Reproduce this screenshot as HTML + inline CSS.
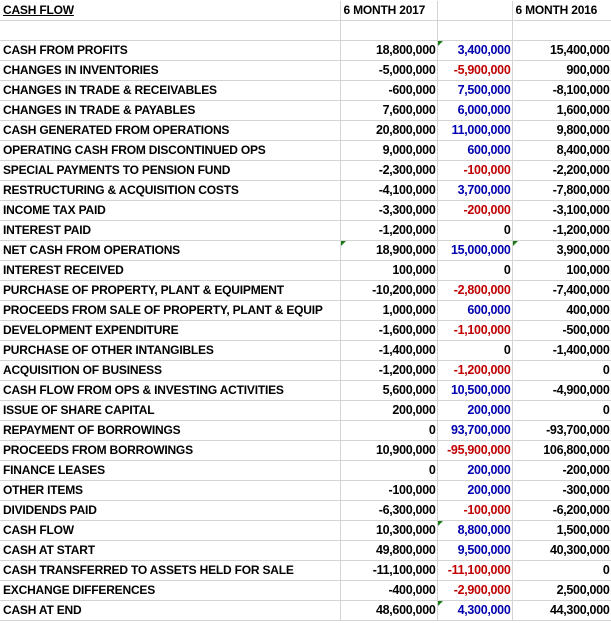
<!DOCTYPE html>
<html><head><style>
body{margin:0;background:#fff;width:611px;height:622px;overflow:hidden}
table{width:611px;margin-top:1px;border-collapse:collapse;table-layout:fixed;font-family:"Liberation Sans",sans-serif;font-size:12px;font-weight:bold;color:#000;letter-spacing:-0.2px}
td{height:19px;line-height:19px;padding:0 2px 0 3px;border:1px solid #d4d4d4;white-space:nowrap;overflow:hidden;position:relative;border-top:none}
td.n{text-align:right;font-size:12.5px;letter-spacing:-0.3px;padding-right:1px}
.b{color:#0000b0}.r{color:#c00000}
.t::before{content:"";position:absolute;left:0;top:0;border-top:5px solid #1a7a1a;border-right:5px solid transparent}
td:first-child{border-left:none}
</style></head><body>
<table>
<col style="width:340px"><col style="width:97px"><col style="width:75px"><col style="width:99px">
<tr><td style="text-decoration:underline">CASH FLOW</td><td>6 MONTH 2017</td><td></td><td>6 MONTH 2016</td></tr>
<tr><td></td><td></td><td></td><td></td></tr>
<tr><td>CASH FROM PROFITS</td><td class="n">18,800,000</td><td class="n b t">3,400,000</td><td class="n">15,400,000</td></tr>
<tr><td>CHANGES IN INVENTORIES</td><td class="n">-5,000,000</td><td class="n r">-5,900,000</td><td class="n">900,000</td></tr>
<tr><td>CHANGES IN TRADE &amp; RECEIVABLES</td><td class="n">-600,000</td><td class="n b">7,500,000</td><td class="n">-8,100,000</td></tr>
<tr><td>CHANGES IN TRADE &amp; PAYABLES</td><td class="n">7,600,000</td><td class="n b">6,000,000</td><td class="n">1,600,000</td></tr>
<tr><td>CASH GENERATED FROM OPERATIONS</td><td class="n">20,800,000</td><td class="n b">11,000,000</td><td class="n">9,800,000</td></tr>
<tr><td>OPERATING CASH FROM DISCONTINUED OPS</td><td class="n">9,000,000</td><td class="n b">600,000</td><td class="n">8,400,000</td></tr>
<tr><td>SPECIAL PAYMENTS TO PENSION FUND</td><td class="n">-2,300,000</td><td class="n r">-100,000</td><td class="n">-2,200,000</td></tr>
<tr><td>RESTRUCTURING &amp; ACQUISITION COSTS</td><td class="n">-4,100,000</td><td class="n b">3,700,000</td><td class="n">-7,800,000</td></tr>
<tr><td>INCOME TAX PAID</td><td class="n">-3,300,000</td><td class="n r">-200,000</td><td class="n">-3,100,000</td></tr>
<tr><td>INTEREST PAID</td><td class="n">-1,200,000</td><td class="n">0</td><td class="n">-1,200,000</td></tr>
<tr><td>NET CASH FROM OPERATIONS</td><td class="n t">18,900,000</td><td class="n b">15,000,000</td><td class="n t">3,900,000</td></tr>
<tr><td>INTEREST RECEIVED</td><td class="n">100,000</td><td class="n">0</td><td class="n">100,000</td></tr>
<tr><td>PURCHASE OF PROPERTY, PLANT &amp; EQUIPMENT</td><td class="n">-10,200,000</td><td class="n r">-2,800,000</td><td class="n">-7,400,000</td></tr>
<tr><td>PROCEEDS FROM SALE OF PROPERTY, PLANT &amp; EQUIP</td><td class="n">1,000,000</td><td class="n b">600,000</td><td class="n">400,000</td></tr>
<tr><td>DEVELOPMENT EXPENDITURE</td><td class="n">-1,600,000</td><td class="n r">-1,100,000</td><td class="n">-500,000</td></tr>
<tr><td>PURCHASE OF OTHER INTANGIBLES</td><td class="n">-1,400,000</td><td class="n">0</td><td class="n">-1,400,000</td></tr>
<tr><td>ACQUISITION OF BUSINESS</td><td class="n">-1,200,000</td><td class="n r">-1,200,000</td><td class="n">0</td></tr>
<tr><td>CASH FLOW FROM OPS &amp; INVESTING ACTIVITIES</td><td class="n">5,600,000</td><td class="n b">10,500,000</td><td class="n">-4,900,000</td></tr>
<tr><td>ISSUE OF SHARE CAPITAL</td><td class="n">200,000</td><td class="n b">200,000</td><td class="n">0</td></tr>
<tr><td>REPAYMENT OF BORROWINGS</td><td class="n">0</td><td class="n b">93,700,000</td><td class="n">-93,700,000</td></tr>
<tr><td>PROCEEDS FROM BORROWINGS</td><td class="n">10,900,000</td><td class="n r">-95,900,000</td><td class="n">106,800,000</td></tr>
<tr><td>FINANCE LEASES</td><td class="n">0</td><td class="n b">200,000</td><td class="n">-200,000</td></tr>
<tr><td>OTHER ITEMS</td><td class="n">-100,000</td><td class="n b">200,000</td><td class="n">-300,000</td></tr>
<tr><td>DIVIDENDS PAID</td><td class="n">-6,300,000</td><td class="n r">-100,000</td><td class="n">-6,200,000</td></tr>
<tr><td>CASH FLOW</td><td class="n">10,300,000</td><td class="n b t">8,800,000</td><td class="n">1,500,000</td></tr>
<tr><td>CASH AT START</td><td class="n">49,800,000</td><td class="n b">9,500,000</td><td class="n">40,300,000</td></tr>
<tr><td>CASH TRANSFERRED TO ASSETS HELD FOR SALE</td><td class="n">-11,100,000</td><td class="n r">-11,100,000</td><td class="n">0</td></tr>
<tr><td>EXCHANGE DIFFERENCES</td><td class="n">-400,000</td><td class="n r">-2,900,000</td><td class="n">2,500,000</td></tr>
<tr><td>CASH AT END</td><td class="n">48,600,000</td><td class="n b t">4,300,000</td><td class="n">44,300,000</td></tr>
</table>
</body></html>
